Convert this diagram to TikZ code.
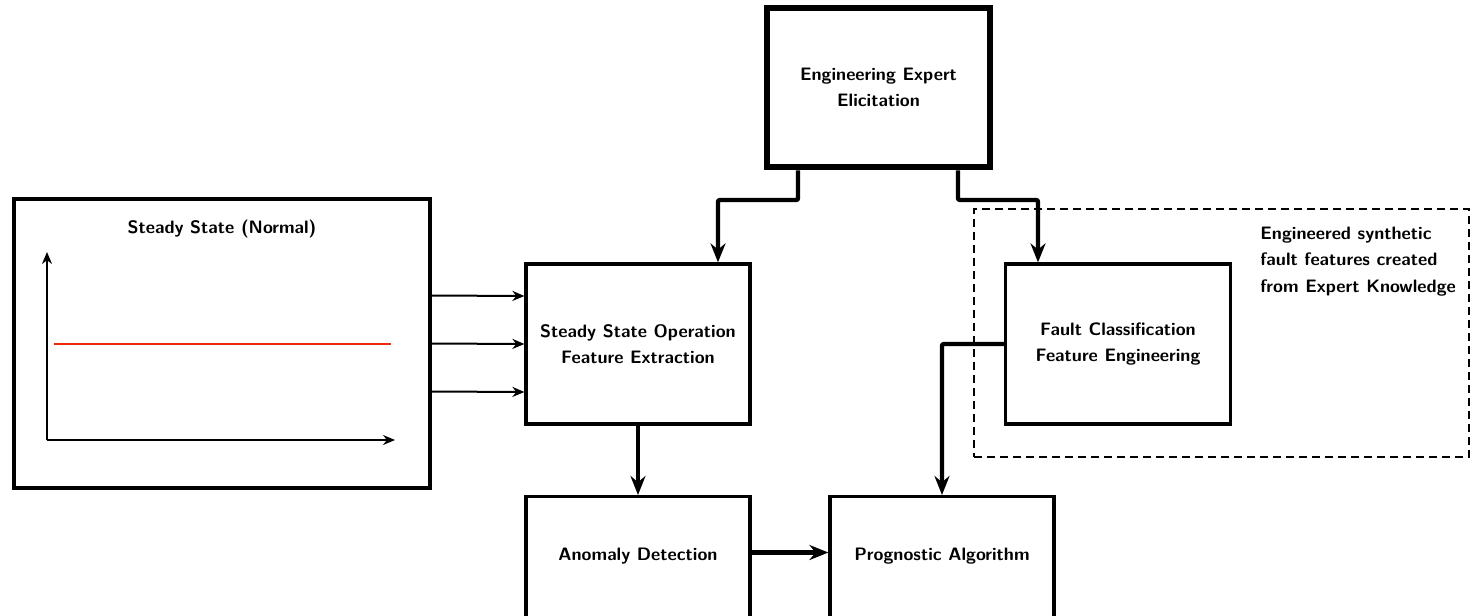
\documentclass[tikz,border=0pt]{standalone}
\usepackage{fontspec}
\usetikzlibrary{arrows.meta,positioning,calc}
\definecolor{sigred}{RGB}{240,40,10}
\begin{document}
\begin{tikzpicture}[x=0.5pt,y=-0.5pt,
  every node/.style={font=\sffamily\bfseries\fontsize{9}{13}\selectfont},
  box/.style={draw,line width=1.6pt,rectangle,inner sep=0pt,align=center},
  bigbox/.style={draw,line width=3.3pt,rectangle,inner sep=0pt,align=center},
  conn/.style={line width=2.2pt,-{Stealth[length=9.5pt,width=7.5pt]}},
  thin arrow/.style={line width=1pt,-{Stealth[length=6pt,width=5pt]}},
  axis/.style={line width=1pt,-{Stealth[length=6pt,width=5pt]}},
  dashbox/.style={draw,dashed,line width=1pt,dash pattern=on 4pt off 2.5pt}
]
\useasboundingbox (0,0) rectangle (1474,616);
% left panel
\node[box,minimum width=208pt,minimum height=144.5pt] (ss) at (222,343.5) {};
\node (sstitle) at (222,229) {Steady State (Normal)};
\coordinate (o) at (47,440);
\coordinate (ytop) at (47,252);
\coordinate (xend) at (395,440);
\draw[axis] (o) -- (ytop);
\draw[axis] (o) -- (xend);
\coordinate (r1) at (54,344);
\coordinate (r2) at (391,344);
\draw[sigred,line width=1pt] (r1) -- (r2);
% main boxes
\node[box,minimum width=112pt,minimum height=80pt] (sso) at (638,344) {Steady State Operation\\Feature Extraction};
\node[bigbox,minimum width=111.5pt,minimum height=79.5pt] (eng) at (878.5,87.5) {Engineering Expert\\Elicitation};
\node[box,minimum width=112.5pt,minimum height=80pt] (fault) at (1118,344) {Fault Classification\\Feature Engineering};
\node[box,minimum width=112pt,minimum height=75pt,anchor=north] (anom) at (638,495) {};
\node (anomtext) at (638,556) {Anomaly Detection};
\node[box,minimum width=112pt,minimum height=75pt,anchor=north] (prog) at (942,495) {};
\node (progtext) at (942,556) {Prognostic Algorithm};
% dashed group
\node[dashbox,inner sep=0pt,minimum width=247.5pt,minimum height=124pt] (grp) at (1221.5,332.5) {};
\node[align=left,anchor=west,inner sep=0pt,font=\sffamily\bfseries\fontsize{9}{13.3}\selectfont] (note) at (1260,261.5) {Engineered synthetic\\fault features created\\from Expert Knowledge};
% small arrows
\foreach \dy [count=\i] in {-48,0,48}{
  \draw[thin arrow] ($(ss.east)+(0,\dy)$) -- ($(sso.west)+(0,\dy)$);
}
% connectors
\coordinate (el) at (798,200);
\coordinate (er) at (958,200);
\coordinate (lt) at (718,0);
\coordinate (rt) at (1038,0);
\coordinate (ay) at (0,552.5);
\draw[conn,rounded corners=1pt] (eng.south -| el) -- (el) -| (lt |- sso.north);
\draw[conn,rounded corners=1pt] (eng.south -| er) -- (er) -| (rt |- fault.north);
\draw[conn] (sso.south) -- (anom.north);
\draw[conn] (ay -| anom.east) -- (ay -| prog.west);
\draw[conn,rounded corners=1pt] (fault.west) -| (prog.north);
\end{tikzpicture}
\end{document}
